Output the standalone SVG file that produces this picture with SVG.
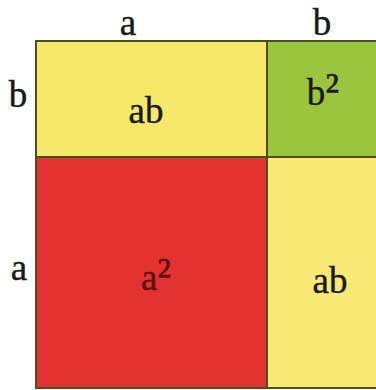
<svg xmlns="http://www.w3.org/2000/svg" width="376" height="390" viewBox="0 0 376 390">
<style>
.lbl{font-family:"Liberation Serif","DejaVu Serif",serif;font-size:37px;fill:#1a1a1a;text-anchor:middle;stroke:#1a1a1a;stroke-width:0.4}
.sup{font-size:46px}
.cell{stroke:#4a4f22;stroke-width:2}
</style>
<rect width="376" height="390" fill="#ffffff"/>
<g id="side-labels">
<text class="lbl" x="128" y="35">a</text>
<text class="lbl" x="322" y="35">b</text>
<text class="lbl" x="18" y="107">b</text>
<text class="lbl" x="19" y="280">a</text>
</g>
<g id="cell-ab-top">
<rect class="cell" x="36" y="41" width="231" height="116" fill="#f6e96a"/>
<text class="lbl" x="146" y="123">ab</text>
</g>
<g id="cell-b2">
<rect class="cell" x="267" y="41" width="112" height="116" fill="#9cc53e"/>
<text class="lbl" x="323" y="105">b<tspan class="sup">²</tspan></text>
</g>
<g id="cell-a2">
<rect class="cell" x="36" y="157" width="231" height="231" fill="#e33331" stroke="#5a3a1c"/>
<text class="lbl" x="156" y="290" style="fill:#5a1212;stroke:#5a1212">a<tspan class="sup">²</tspan></text>
</g>
<g id="cell-ab-bottom">
<rect class="cell" x="267" y="157" width="112" height="231" fill="#f8ea72"/>
<text class="lbl" x="330" y="293">ab</text>
</g>
</svg>
